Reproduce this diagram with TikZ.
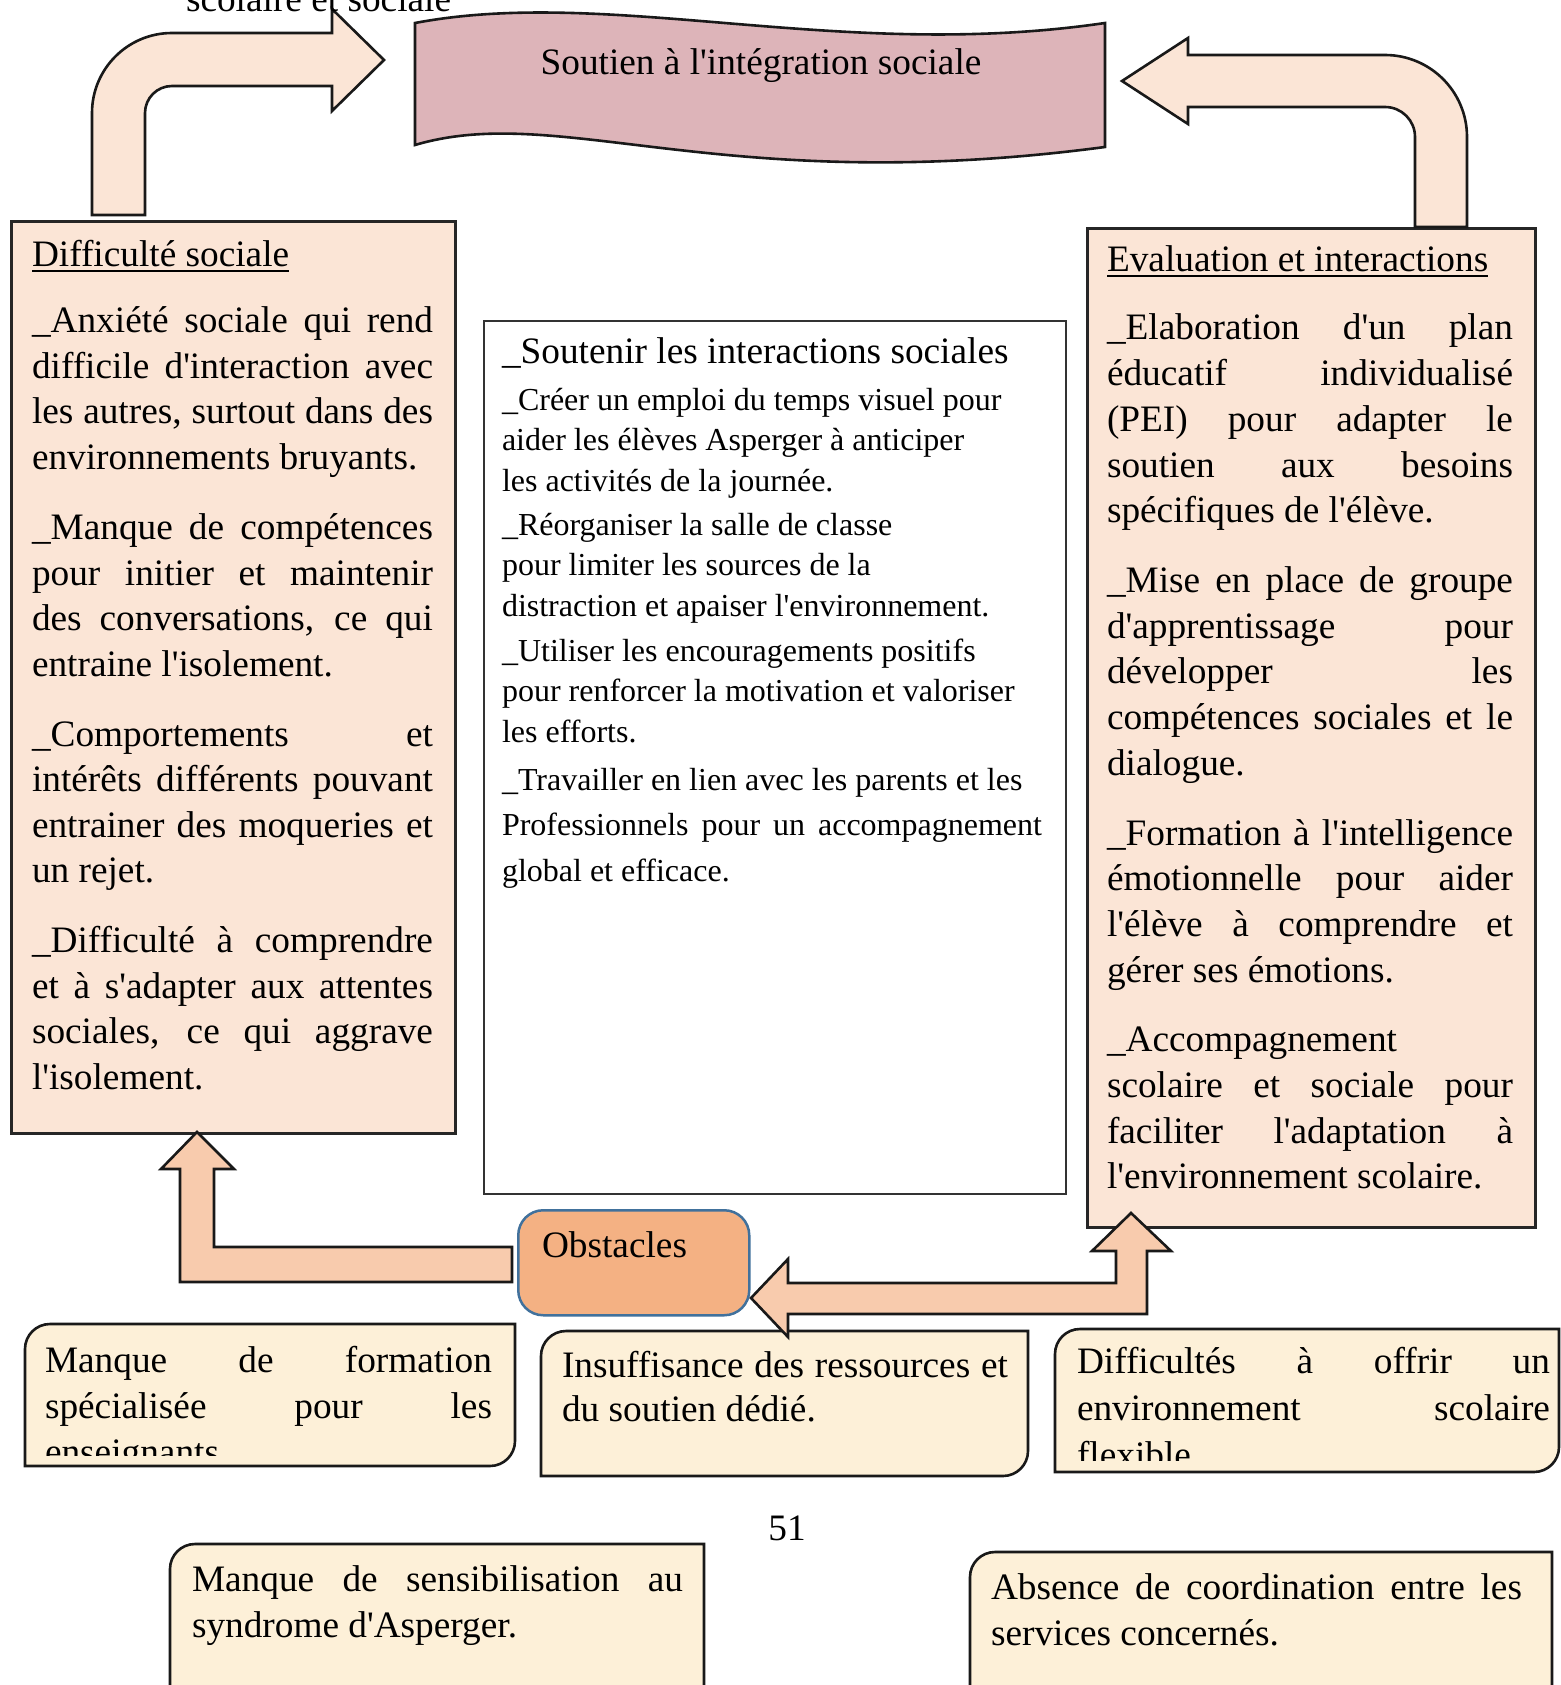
\documentclass[tikz,border=0pt]{standalone}
\usepackage{fontspec}
\newfontfamily\tnr[Ligatures=CommonOff]{Liberation Serif}
\definecolor{peach}{HTML}{FBE5D6}
\definecolor{peachmid}{HTML}{F8CBAD}
\definecolor{obstfill}{HTML}{F4B183}
\definecolor{obstline}{HTML}{41719C}
\definecolor{bannerpink}{HTML}{DDB4B9}
\definecolor{parch}{HTML}{FDF0D8}
\newcommand\myul[1]{\setbox0=\hbox{#1}\rlap{\rule[-5pt]{\wd0}{2pt}}\box0}
\newcommand\notebox[4]{% left top right bottom
  \draw[note] (#1,#4) -- (#1,#2+25) .. controls (#1,#2+11.2) and (#1+11.2,#2) .. (#1+25,#2)
    -- (#3,#2) -- (#3,#4-25) .. controls (#3,#4-11.2) and (#3-11.2,#4) .. (#3-25,#4) -- cycle;}
\tikzset{
  txt/.style={font=\tnr\fontsize{37.3}{45.5}\selectfont, inner sep=0pt, outer sep=0pt, text=black},
  para/.style={txt, anchor=base west, align=justify},
  lsk/.style={font=\tnr\fontsize{37.3}{#1}\selectfont},
  panel/.style={draw=black!85, line width=2.6pt, fill=peach, inner sep=0pt, anchor=north west},
  note/.style={draw=black!90, line width=2.6pt, fill=parch},
  fat/.style={draw=black!90, line width=2.6pt, line join=miter},
}
\begin{document}
\begin{tikzpicture}[x=1pt,y=-1pt]
\useasboundingbox (0,0) rectangle (1560,1685);
\fill[white] (0,0) rectangle (1560,1685);

% main panels
\node[panel, minimum width=444pt, minimum height=912pt] (diff) at (10,220) {};
\node[panel, minimum width=448pt, minimum height=999pt] (eval) at (1086,227) {};
\node[draw=black!80, line width=1.5pt, fill=white, inner sep=0pt, anchor=north west,
      minimum width=582pt, minimum height=873pt] (ctr) at (483,320) {};

% bottom notes
\notebox{25}{1324}{515}{1466}
\notebox{541}{1331}{1028}{1476}
\notebox{1055}{1329}{1559}{1472}
\notebox{170}{1544}{704}{1710}
\notebox{970}{1552}{1552}{1710}

% banner
\draw[draw=black!90, line width=2.6pt, fill=bannerpink]
  (415,23) .. controls (610,-14) and (840,62) .. (1105,23) -- (1105,147)
  .. controls (720,198) and (560,102) .. (415,145) -- cycle;
\node[txt, anchor=base] (bantxt) at (761,75) {Soutien à l'intégration sociale};

% top bent arrows
\draw[fat, fill=peach] (92,215) -- (92,113) .. controls (92,68.8) and (127.8,33) .. (172,33)
  -- (332,33) -- (332,9) -- (384,60) -- (332,111) -- (332,86) -- (172,86)
  .. controls (157.1,86) and (145,98.1) .. (145,113) -- (145,215) -- cycle;
\draw[fat, fill=peach] (1467,227) -- (1467,137) .. controls (1467,91.7) and (1430.3,55) .. (1385,55)
  -- (1188,55) -- (1188,38) -- (1122,81) -- (1188,124) -- (1188,107) -- (1385,107)
  .. controls (1401.6,107) and (1415,120.4) .. (1415,137) -- (1415,227) -- cycle;
\node[txt, anchor=base west] (scol) at (186,12) {scolaire et sociale};

% panel texts
\node[para, text width=401pt] (difftxt) at (32,267) {\myul{Difficulté sociale}\par\vspace{20.5pt}
\_Anxiété sociale qui rend\linebreak difficile d'interaction avec\linebreak les autres, surtout dans des\linebreak environnements bruyants.\par\vspace{24.5pt}
\_Manque de compétences\linebreak pour initier et maintenir\linebreak des conversations, ce qui\linebreak entraine l'isolement.\par\vspace{24.5pt}
\_Comportements et\linebreak intérêts différents pouvant\linebreak entrainer des moqueries et\linebreak un rejet.\par\vspace{24.5pt}
\_Difficulté à comprendre\linebreak et à s'adapter aux attentes\linebreak sociales, ce qui aggrave\linebreak l'isolement.};

\node[para, lsk=45.7, text width=406pt] (evaltxt) at (1107,272) {\myul{Evaluation et interactions}\par\vspace{22.3pt}
\_Elaboration d'un plan\linebreak éducatif individualisé\linebreak (PEI) pour adapter le\linebreak soutien aux besoins\linebreak spécifiques de l'élève.\par\vspace{24pt}
\_Mise en place de groupe\linebreak d'apprentissage pour\linebreak développer les\linebreak compétences sociales et le\linebreak dialogue.\par\vspace{24pt}
\_Formation à l'intelligence\linebreak émotionnelle pour aider\linebreak l'élève à comprendre et\linebreak gérer ses émotions.\par\vspace{24pt}
\_Accompagnement\linebreak scolaire et sociale pour\linebreak faciliter l'adaptation à\linebreak l'environnement scolaire.};

\node[para, text width=540pt] (ctrtxt) at (502,363) {\_Soutenir les interactions sociales\par
\fontsize{32}{40.5}\selectfont\vspace{6.5pt}
\_Créer un emploi du temps visuel pour\newline aider les élèves Asperger à anticiper\newline les activités de la journée.\par\vspace{3.5pt}
\_Réorganiser la salle de classe\newline pour limiter les sources de la\newline distraction et apaiser l'environnement.\par\vspace{4.5pt}
\_Utiliser les encouragements positifs\newline pour renforcer la motivation et valoriser\newline les efforts.\par
\fontsize{32}{42.5}\selectfont\vspace{2.5pt}
\_Travailler en lien avec les parents et les\newline Professionnels pour un accompagnement\linebreak global et efficace.};

% note texts
\begin{scope}
\clip (25,1324) rectangle (515,1455);
\node[para, lsk=46, text width=447pt] (atxt) at (45,1372) {Manque de formation\linebreak spécialisée pour les\linebreak enseignants};
\end{scope}
\node[para, lsk=44.5, text width=446pt] (btxt) at (562,1377) {Insuffisance des ressources et\linebreak du soutien dédié.};
\begin{scope}
\clip (1055,1329) rectangle (1560,1460);
\node[para, lsk=47, text width=473pt] (ctxt) at (1077,1373) {Difficultés à offrir un\linebreak environnement scolaire\linebreak flexible};
\end{scope}
\node[para, lsk=46, text width=491pt] (dtxt) at (192,1591) {Manque de sensibilisation au\linebreak syndrome d'Asperger.};
\node[para, lsk=46, text width=531pt] (etxt) at (991,1599) {Absence de coordination entre les\linebreak services concernés.};
\node[txt, anchor=base] (pnum) at (787,1540) {51};

% obstacles and its arrows
\node[draw=obstline, fill=obstfill, line width=2.5pt, rounded corners=25pt, inner sep=0pt,
      anchor=north west, minimum width=231pt, minimum height=105pt] (obst) at (517,1209) {};
\node[txt, anchor=base west] (obsttxt) at (542,1257) {Obstacles};
\coordinate (tipL) at (197,1132);
\coordinate (tipR) at (1131,1213);
\coordinate (tipO) at (751,1298);
\draw[fat, fill=peachmid] (512,1247) -- (214,1247) -- (214,1169) -- (234,1169) -- (tipL)
  -- (161,1169) -- (180,1169) -- (180,1282) -- (512,1282) -- cycle;
\draw[fat, fill=peachmid] (tipO) -- (788,1259) -- (788,1283) -- (1116,1283) -- (1116,1251)
  -- (1092,1251) -- (tipR) -- (1171,1251) -- (1147,1251) -- (1147,1314) -- (788,1314)
  -- (788,1337) -- cycle;
\end{tikzpicture}
\end{document}
